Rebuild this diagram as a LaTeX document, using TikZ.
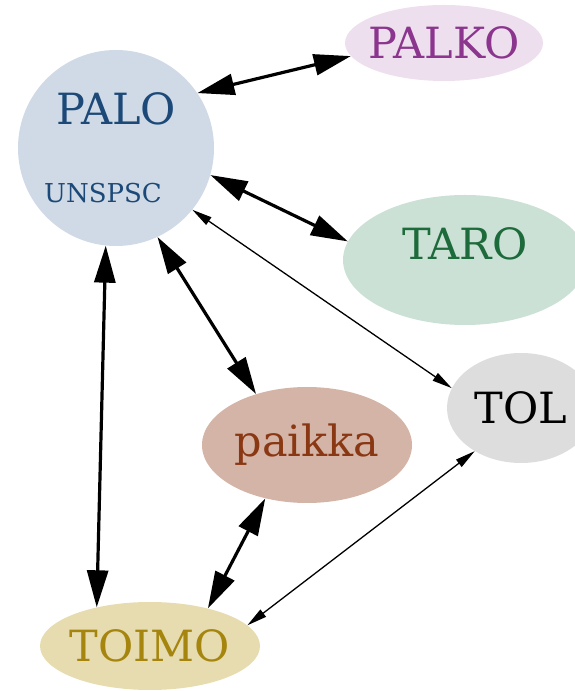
\documentclass[tikz,border=0pt]{standalone}
\usepackage{fontspec}
\setmainfont{DejaVu Serif}
\usetikzlibrary{arrows.meta,shapes.geometric}

\definecolor{paloFill}{HTML}{CFDAE6}
\definecolor{paloText}{HTML}{1C4978}
\definecolor{palkoFill}{HTML}{EEDFEE}
\definecolor{palkoText}{HTML}{8B358E}
\definecolor{taroFill}{HTML}{CCE1D6}
\definecolor{taroText}{HTML}{1D6A3B}
\definecolor{tolFill}{HTML}{DDDDDD}
\definecolor{paikkaFill}{HTML}{D3B4A6}
\definecolor{paikkaText}{HTML}{8A3814}
\definecolor{toimoFill}{HTML}{E7DCAF}
\definecolor{toimoText}{HTML}{A5850E}

\begin{document}
\begin{tikzpicture}[x=1pt,y=1pt]
\useasboundingbox (0,0) rectangle (575,691);
\begin{scope}[every node/.style={ellipse,inner ysep=0pt,inner xsep=-20pt,font=\fontsize{43}{48}\selectfont}]
    \node[circle,inner sep=0pt,fill=paloFill,text=paloText,minimum size=196pt,align=center] (PALO) at (116,543)
        {PALO\\[30pt]{\fontsize{26}{30}\selectfont UNSPSC\hspace*{26pt}}};
    \node[fill=palkoFill,text=palkoText,minimum width=198pt,minimum height=76pt] (PALKO) at (444,648) {PALKO};
    \node[fill=taroFill,text=taroText,minimum width=244pt,minimum height=130pt] (TARO) at (465,431) {\smash{TARO}};
    \node[fill=tolFill,text=black,minimum width=148pt,minimum height=110pt] (TOL) at (521,283) {TOL};
    \node[fill=paikkaFill,text=paikkaText,minimum width=210pt,minimum height=116pt] (paikka) at (307,246) {paikka};
    \node[fill=toimoFill,text=toimoText,minimum width=220pt,minimum height=88pt] (TOIMO) at (150,45) {TOIMO};
\end{scope}

\begin{scope}[>={Triangle[length=37pt,width=21pt]},
              every edge/.style={draw=black,line width=3.2pt}]
    \path [<->] (PALO.34) edge (PALKO.188);
    \path [<->] (PALO.-16) edge (TARO.171);
    \path [<->] (PALO.-65.5) edge (paikka.135.5);
    \path [<->] (PALO.-96.7) edge (TOIMO.144.4);
    \path [<->] (paikka.232.3) edge (TOIMO.33);
\end{scope}

\begin{scope}[>={Triangle[length=20pt,width=9pt]},
              every edge/.style={draw=black,line width=1.3pt}]
    \path [<->] (PALO.-39) edge (TOL.164);
    \path [<->] (TOL.223) edge (TOIMO.12);
\end{scope}
\end{tikzpicture}
\end{document}
